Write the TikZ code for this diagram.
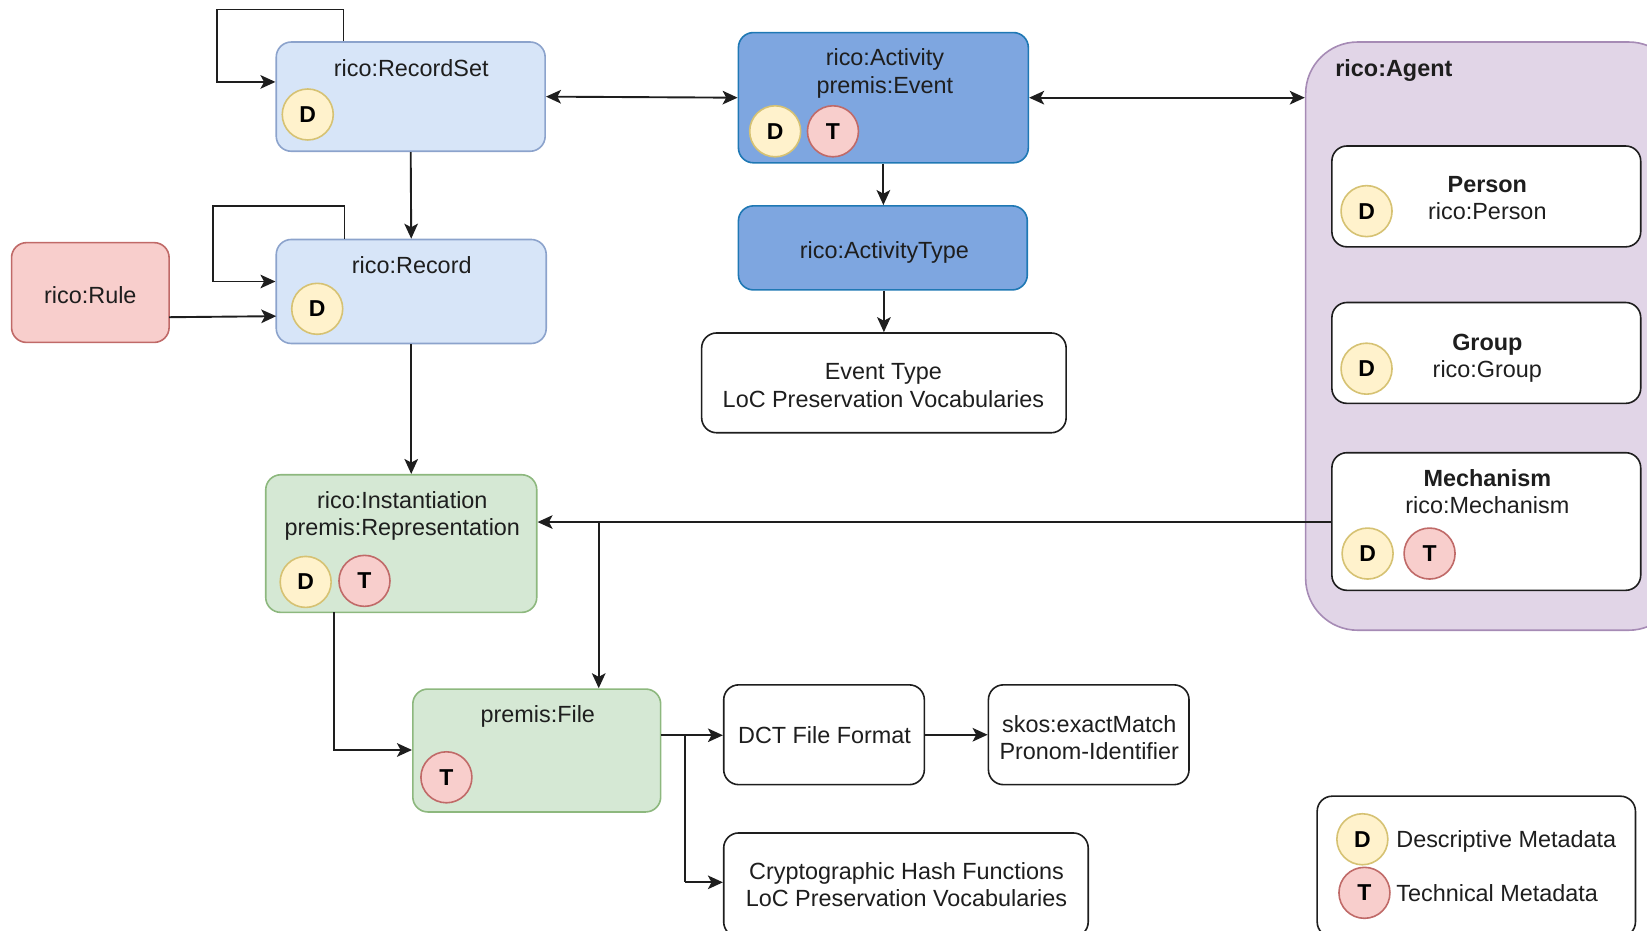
\documentclass[tikz,border=0pt]{standalone}
\usepackage{fontspec}
\setmainfont{Liberation Sans}
\usetikzlibrary{arrows.meta,calc}
\definecolor{inkc}{HTML}{1E1E1E}
\definecolor{bluef}{HTML}{D7E5F8}
\definecolor{blues}{HTML}{8CA3CC}
\definecolor{dbluef}{HTML}{7EA6E0}
\definecolor{dblues}{HTML}{1F78B4}
\definecolor{redf}{HTML}{F8CECC}
\definecolor{reds}{HTML}{C06A68}
\definecolor{greenf}{HTML}{D5E8D4}
\definecolor{greens}{HTML}{8DB87E}
\definecolor{purplef}{HTML}{E1D5E7}
\definecolor{purples}{HTML}{A68BB5}
\definecolor{yelf}{HTML}{FFF2CC}
\definecolor{yels}{HTML}{D6C273}
\tikzset{
  box/.style={rectangle,rounded corners=7.5pt,inner sep=0pt,line width=.8pt},
  lightblue/.style={box,fill=bluef,draw=blues},
  darkblue/.style={box,fill=dbluef,draw=dblues},
  redbox/.style={box,fill=redf,draw=reds},
  greenbox/.style={box,fill=greenf,draw=greens},
  whitebox/.style={box,fill=white,draw=inkc},
  agentbox/.style={box,fill=purplef,draw=purples,rounded corners=26pt},
  txt/.style={align=center,inner sep=0pt,text=inkc,font=\fontsize{11.7}{13.6}\selectfont},
  dcirc/.style={circle,minimum size=25.5pt,inner sep=0pt,fill=yelf,draw=yels,line width=.8pt,font=\fontsize{11.5}{13}\selectfont\bfseries},
  tcirc/.style={circle,minimum size=25.5pt,inner sep=0pt,fill=redf,draw=reds,line width=.8pt,font=\fontsize{11.5}{13}\selectfont\bfseries},
  arr/.style={draw=inkc,line width=.95pt,-{Stealth[length=7.5pt,width=6.8pt,inset=1.8pt]}},
  darr/.style={draw=inkc,line width=.95pt,{Stealth[length=7.5pt,width=6.8pt,inset=1.8pt]}-{Stealth[length=7.5pt,width=6.8pt,inset=1.8pt]}},
  plainline/.style={draw=inkc,line width=.95pt}
}
\newcommand{\bx}[6]{\node[#6,minimum width={(#4-#2)*0.5252pt},minimum height={(#5-#3)*0.5252pt},anchor=center] (#1) at ({(#2+#4)/2},{(#3+#5)/2}) {};}
\newcommand{\bdg}[1]{\raisebox{-0.5pt}{#1}}
\begin{document}
\begin{tikzpicture}[x=0.5252pt,y=-0.5252pt]
\useasboundingbox (0,0) rectangle (1568,885.4);
\begin{scope}
\clip (0,0) rectangle (1568,885.4);
% boxes
\bx{rs}{263}{40}{519}{144}{lightblue}
\bx{act}{703}{31}{979}{155}{darkblue}
\bx{atype}{703}{196}{978}{276}{darkblue}
\bx{etype}{668}{317}{1015}{412}{whitebox}
\bx{rec}{263}{228}{520}{327}{lightblue}
\bx{rule}{11}{231}{161}{326}{redbox}
\bx{inst}{253}{452}{511}{583}{greenbox}
\bx{file}{393}{656}{629}{773}{greenbox}
\bx{dct}{689}{652}{880}{747}{whitebox}
\bx{skos}{941}{652}{1132}{747}{whitebox}
\bx{hash}{689}{793}{1036}{892}{whitebox}
\bx{agent}{1243}{40}{1600}{600}{agentbox}
\bx{person}{1268}{139}{1562}{235}{whitebox}
\bx{group}{1268}{288}{1562}{384}{whitebox}
\bx{mech}{1268}{431}{1562}{562}{whitebox}
\bx{legend}{1254}{758}{1557}{892}{whitebox}
% texts
\node[txt] (trs) at (391.5,65) {rico:RecordSet};
\node[txt] (tact) at (842.5,70) {rico:Activity\\premis:Event};
\node[txt] (tatype) at (842,240) {rico:ActivityType};
\node[txt] (tetype) at (841,367) {Event Type\\LoC Preservation Vocabularies};
\node[txt] (trec) at (392,252) {rico:Record};
\node[txt] (trule) at (86,281) {rico:Rule};
\node[txt] (tinst) at (383,491) {rico:Instantiation\\premis:Representation};
\node[txt] (tfile) at (512,682) {premis:File};
\node[txt] (tdct) at (785,700) {DCT File Format};
\node[txt] (tskos) at (1037,702) {skos:exactMatch\\Pronom-Identifier};
\node[txt] (thash) at (863,842) {Cryptographic Hash Functions\\LoC Preservation Vocabularies};
\node[txt,font=\fontsize{11.7}{13.6}\selectfont\bfseries] (tagent) at (1327,67) {rico:Agent};
\node[txt] (tperson) at (1416,188.5) {\textbf{Person}\\rico:Person};
\node[txt] (tgroup) at (1416,341) {\textbf{Group}\\rico:Group};
\node[txt] (tmech) at (1416,468) {\textbf{Mechanism}\\rico:Mechanism};
\node[txt,anchor=west] (tdm) at (1329,801) {Descriptive Metadata};
\node[txt,anchor=west] (ttm) at (1329,850) {Technical Metadata};
% badges
\node[dcirc] (d1) at (293,109) {\bdg{D}};
\node[dcirc] (d2) at (738,125) {\bdg{D}};
\node[tcirc] (t2) at (793,125) {\bdg{T}};
\node[dcirc] (d3) at (302,294) {\bdg{D}};
\node[dcirc] (d4) at (291,554) {\bdg{D}};
\node[tcirc] (t4) at (347,553) {\bdg{T}};
\node[tcirc] (t5) at (425,740) {\bdg{T}};
\node[dcirc] (d6) at (1301,201) {\bdg{D}};
\node[dcirc] (d7) at (1301,351) {\bdg{D}};
\node[dcirc] (d8) at (1302,527) {\bdg{D}};
\node[tcirc] (t8) at (1361,527) {\bdg{T}};
\node[dcirc] (d9) at (1297,799) {\bdg{D}};
\node[tcirc] (t9) at (1299,850) {\bdg{T}};
% helper coordinates
\coordinate (rsR) at (327,9);
\coordinate (rsL) at (207,9);
\coordinate (rsI) at (207,78);
\coordinate (recR) at (328,196);
\coordinate (recL) at (203,196);
\coordinate (recI) at (203,268);
\coordinate (ruleY) at (161,302);
\coordinate (recY) at (263,301);
\coordinate (mechY) at (1268,497);
\coordinate (branchA) at (570,497);
\coordinate (instX) at (318,583);
\coordinate (fileY) at (318,714);
\coordinate (fileOut) at (629,700);
\coordinate (branchB) at (652,700);
\coordinate (hashY) at (652,840);
% connectors
\draw[arr] (rsR |- rs.north) -- (rsR) -- (rsL) -- (rsI) -- (rsI -| rs.west);
\draw[darr] (rs.east) -- (act.west);
\draw[arr] (rs.south) -- (rec.north);
\draw[arr] (act.south) -- (act.south |- atype.north);
\draw[arr] (etype.north |- atype.south) -- (etype.north);
\draw[darr] (act.east) -- (act.east -| agent.west);
\draw[arr] (recR |- rec.north) -- (recR) -- (recL) -- (recI) -- (recI -| rec.west);
\draw[arr] (ruleY) -- (recY);
\draw[arr] (rec.south) -- (rec.south |- inst.north);
\draw[arr] (mechY) -- (mechY -| inst.east);
\draw[arr] (branchA) -- (branchA |- file.north);
\draw[arr] (instX) -- (fileY) -- (fileY -| file.west);
\draw[arr] (fileOut) -- (fileOut -| dct.west);
\draw[plainline] (branchB) -- (hashY);
\draw[arr] (hashY) -- (hashY -| hash.west);
\draw[arr] (dct.east) -- (skos.west);
\end{scope}
\end{tikzpicture}
\end{document}
